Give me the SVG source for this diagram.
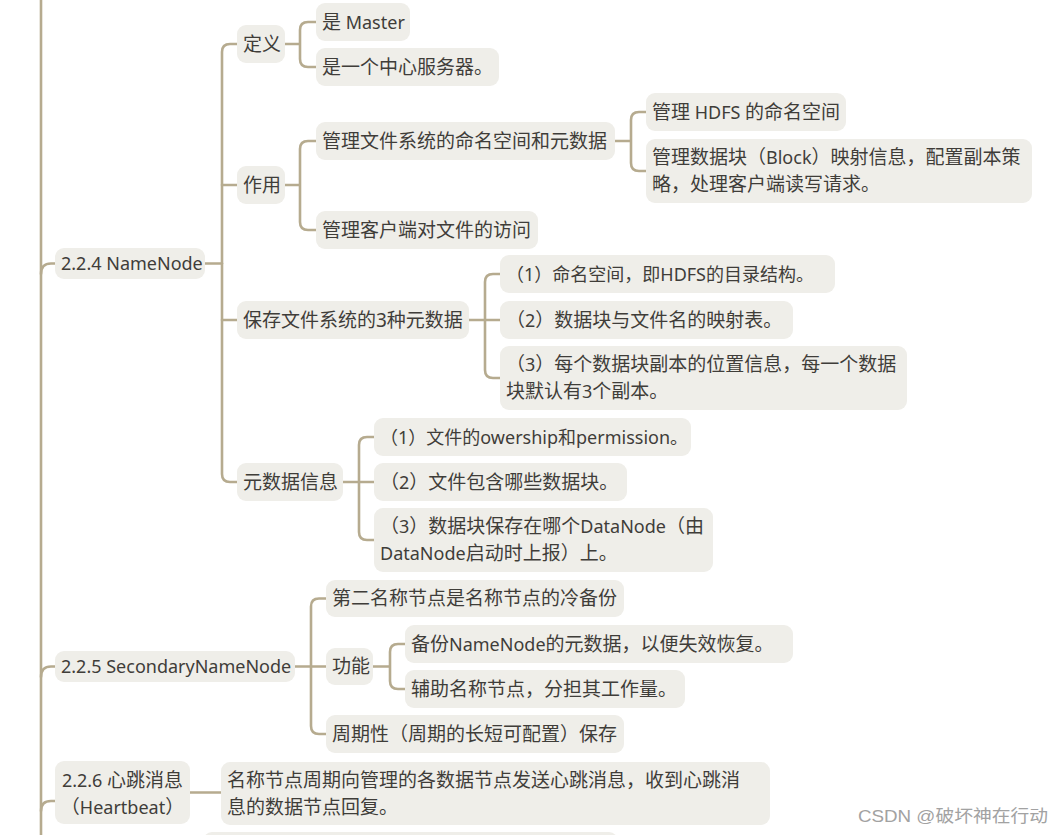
<svg xmlns="http://www.w3.org/2000/svg" width="1063" height="835" viewBox="0 0 1063 835">
<style>
.bx{fill:#efeee9}
.t{font-family:"Noto Sans","Noto Sans CJK SC",sans-serif;font-size:19px;fill:#3f3d39}
.l{font-size:18px}
.s18{font-size:18px}
.c{fill:none;stroke:#b6ab8f;stroke-width:2.6;stroke-linecap:round;stroke-linejoin:round}
.wm{font-family:"Liberation Sans","Noto Sans CJK SC",sans-serif;font-size:17px;fill:#a2a2a2}
</style>
<rect width="1063" height="835" fill="#ffffff"/>
<g id="connectors">
<path class="c" d="M41,-2 V837"/>
<path class="c" d="M41,274 Q41,263.5 51,263.5 H55"/>
<path class="c" d="M41,677 Q41,666.5 51,666.5 H55"/>
<path class="c" d="M41,811 Q41,801 51,801 H55"/>
<path class="c" d="M205,263.5 H222"/>
<path class="c" d="M237,44 H230 Q222,44 222,52 V474 Q222,482 230,482 H237"/>
<path class="c" d="M222,185 H237 M222,320 H237"/>
<path class="c" d="M285,44 H300 M316,22 H308 Q300,22 300,30 V59 Q300,67 308,67 H316"/>
<path class="c" d="M285,185 H300 M316,141 H308 Q300,141 300,149 V222 Q300,230 308,230 H316"/>
<path class="c" d="M615,141 H631 M646,112 H639 Q631,112 631,120 V163 Q631,171 639,171 H646"/>
<path class="c" d="M469,320 H500 M500,274 H493 Q485,274 485,282 V370 Q485,378 493,378 H500"/>
<path class="c" d="M343,482 H374 M374,437 H367 Q359,437 359,445 V532 Q359,540 367,540 H374"/>
<path class="c" d="M295,666.5 H326 M326,598.5 H319 Q311,598.5 311,606.5 V726 Q311,734 319,734 H326"/>
<path class="c" d="M373,666.5 H390 M405,644 H398 Q390,644 390,652 V681 Q390,689 398,689 H405"/>
<path class="c" d="M190,792.5 H221"/>
</g>
<g id="n224"><rect class="bx" x="55" y="248" width="150" height="31" rx="9"/><text class="t s18" x="61" y="270">2.2.4 NameNode</text></g>
<g id="n_dingyi"><rect class="bx" x="237" y="25" width="48" height="38" rx="9"/><text class="t" x="243" y="50.5">定义</text></g>
<g id="n_master"><rect class="bx" x="316" y="3" width="94" height="38" rx="9"/><text class="t" x="322" y="28.5">是<tspan class="l"> Master</tspan></text></g>
<g id="n_center"><rect class="bx" x="316" y="48" width="183" height="38" rx="9"/><text class="t" x="322" y="73.5">是一个中心服务器。</text></g>
<g id="n_zuoyong"><rect class="bx" x="237" y="166" width="48" height="38" rx="9"/><text class="t" x="243" y="191.5">作用</text></g>
<g id="n_ns"><rect class="bx" x="316" y="122" width="299" height="38" rx="9"/><text class="t" x="322" y="147.5">管理文件系统的命名空间和元数据</text></g>
<g id="n_hdfs"><rect class="bx" x="646" y="93" width="200" height="38" rx="9"/><text class="t" x="652" y="118.5">管理<tspan class="l"> HDFS </tspan>的命名空间</text></g>
<g id="n_block"><rect class="bx" x="646" y="139" width="386" height="64" rx="9"/><text class="t"><tspan x="652" y="164">管理数据块（<tspan class="l">Block</tspan>）映射信息，配置副本策</tspan><tspan x="652" y="191">略，处理客户端读写请求。</tspan></text></g>
<g id="n_client"><rect class="bx" x="316" y="211" width="222" height="38" rx="9"/><text class="t" x="322" y="236.5">管理客户端对文件的访问</text></g>
<g id="n_save"><rect class="bx" x="237" y="301" width="232" height="38" rx="9"/><text class="t" x="243" y="326.5">保存文件系统的3种元数据</text></g>
<g id="n_s1"><rect class="bx" x="500" y="255" width="335" height="38" rx="9"/><text class="t s18" x="506" y="280.5">（1）命名空间，即HDFS的目录结构。</text></g>
<g id="n_s2"><rect class="bx" x="500" y="301" width="293" height="38" rx="9"/><text class="t" x="506" y="326.5">（<tspan class="l">2</tspan>）数据块与文件名的映射表。</text></g>
<g id="n_s3"><rect class="bx" x="500" y="346" width="407" height="64" rx="9"/><text class="t"><tspan x="506" y="371">（<tspan class="l">3</tspan>）每个数据块副本的位置信息，每一个数据</tspan><tspan x="506" y="398">块默认有<tspan class="l">3</tspan>个副本。</tspan></text></g>
<g id="n_meta"><rect class="bx" x="237" y="463" width="106" height="38" rx="9"/><text class="t" x="243" y="488.5">元数据信息</text></g>
<g id="n_m1"><rect class="bx" x="374" y="418" width="317" height="38" rx="9"/><text class="t s18" x="380" y="443.5">（1）文件的owership和permission。</text></g>
<g id="n_m2"><rect class="bx" x="374" y="463" width="253" height="38" rx="9"/><text class="t" x="380" y="488.5">（<tspan class="l">2</tspan>）文件包含哪些数据块。</text></g>
<g id="n_m3"><rect class="bx" x="374" y="508" width="339" height="64" rx="9"/><text class="t"><tspan x="380" y="533">（<tspan class="l">3</tspan>）数据块保存在哪个<tspan class="l">DataNode</tspan>（由</tspan><tspan x="380" y="560"><tspan class="l">DataNode</tspan>启动时上报）上。</tspan></text></g>
<g id="n225"><rect class="bx" x="55" y="651" width="240" height="31" rx="9"/><text class="t s18" x="61" y="673">2.2.5 SecondaryNameNode</text></g>
<g id="n_cold"><rect class="bx" x="326" y="580" width="298" height="37" rx="9"/><text class="t" x="332" y="605">第二名称节点是名称节点的冷备份</text></g>
<g id="n_func"><rect class="bx" x="326" y="648" width="47" height="37" rx="9"/><text class="t" x="332" y="673">功能</text></g>
<g id="n_f1"><rect class="bx" x="405" y="625" width="388" height="38" rx="9"/><text class="t" x="411" y="650.5">备份<tspan class="l">NameNode</tspan>的元数据，以便失效恢复。</text></g>
<g id="n_f2"><rect class="bx" x="405" y="670" width="280" height="38" rx="9"/><text class="t" x="411" y="695.5">辅助名称节点，分担其工作量。</text></g>
<g id="n_period"><rect class="bx" x="326" y="715" width="298" height="38" rx="9"/><text class="t" x="332" y="740.5">周期性（周期的长短可配置）保存</text></g>
<g id="n226"><rect class="bx" x="55" y="761" width="135" height="63" rx="9"/><text class="t" text-anchor="middle"><tspan x="122.5" y="786.5"><tspan class="l">2.2.6 </tspan>心跳消息</tspan><tspan x="122.5" y="813.5">（<tspan class="l">Heartbeat</tspan>）</tspan></text></g>
<g id="n_hb"><rect class="bx" x="221" y="762" width="549" height="63" rx="9"/><text class="t"><tspan x="227" y="787">名称节点周期向管理的各数据节点发送心跳消息，收到心跳消</tspan><tspan x="227" y="814">息的数据节点回复。</tspan></text></g>
<g id="n_next"><rect class="bx" x="203" y="832" width="415" height="30" rx="9"/></g>
<text class="wm" x="858" y="822" textLength="190" lengthAdjust="spacingAndGlyphs">CSDN @破坏神在行动</text>
</svg>
